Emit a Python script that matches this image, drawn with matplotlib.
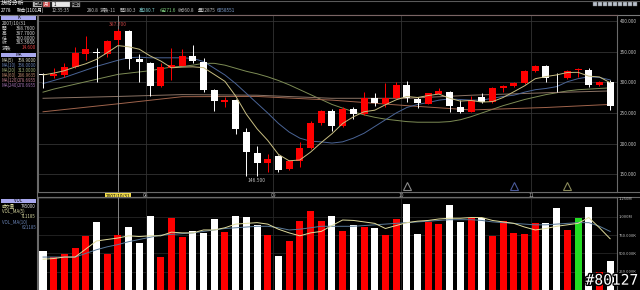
import numpy as np
import matplotlib
matplotlib.use("Agg")
import matplotlib.pyplot as plt
from matplotlib.patches import Rectangle
from matplotlib.ticker import FuncFormatter
import matplotlib.transforms as mtrans
import matplotlib.patheffects as pe

plt.rcParams['font.family'] = ['Noto Sans CJK TC', 'DejaVu Sans']

# ---- data ----
opens = [312.5, 310.3, 312.0, 325.5, 346.2, 348.5, 346.2, 368.76, 383.7, 338.0,
         332.0, 294.0, 324.0, 327.0, 343.0, 333.7, 287.5, 268.5, 271.0, 219.6,
         184.0, 169.0, 180.0, 158.0, 171.7, 193.5, 233.0, 253.8, 229.3, 256.5,
         247.8, 274.0, 264.1, 274.0, 295.7, 272.8, 265.2, 281.5, 284.8, 260.3,
         252.0, 276.0, 267.4, 291.3, 294.6, 298.4, 318.5, 326.6, 308.9, 306.5,
         320.0, 320.0, 295.6, 300.0]
highs = [316.0, 322.8, 331.0, 357.0, 376.0, 355.4, 368.5, 387.7, 385.0, 345.6,
         333.7, 332.0, 356.5, 353.8, 360.9, 339.0, 289.0, 276.6, 272.8, 226.0,
         196.7, 182.6, 181.5, 174.0, 203.0, 237.0, 255.0, 256.0, 260.0, 260.0,
         285.0, 282.0, 299.5, 300.0, 302.0, 276.6, 283.0, 291.3, 286.0, 271.0,
         278.0, 282.0, 292.0, 295.5, 300.5, 320.0, 328.3, 328.3, 314.7, 320.0,
         323.0, 324.0, 302.0, 303.8]
lows = [291.0, 307.6, 309.0, 322.8, 336.4, 301.0, 341.8, 360.8, 321.7, 301.0,
        278.3, 293.0, 303.8, 326.0, 331.0, 283.7, 253.8, 260.3, 215.2, 148.0,
        146.5, 154.0, 153.3, 157.0, 162.5, 192.0, 230.4, 220.7, 228.0, 240.2,
        247.0, 262.0, 260.3, 273.0, 268.5, 257.6, 264.0, 280.5, 251.0, 249.5,
        251.0, 267.0, 266.0, 284.8, 292.5, 297.5, 317.4, 301.0, 283.7, 305.5,
        309.0, 293.0, 294.5, 254.9]
closes = [311.8, 313.0, 325.5, 347.3, 353.8, 347.8, 367.4, 383.36, 337.5, 333.7,
          294.0, 325.5, 328.0, 343.5, 335.3, 287.5, 270.0, 271.7, 224.0, 187.0,
          169.0, 175.0, 157.6, 171.7, 193.5, 233.0, 253.0, 229.3, 256.0, 247.8,
          274.0, 265.8, 274.0, 295.7, 275.0, 265.8, 282.0, 286.0, 261.4, 252.0,
          271.0, 268.5, 290.2, 294.6, 299.0, 319.0, 326.6, 307.6, 308.5, 319.0,
          320.0, 295.6, 301.0, 260.9]
volumes = [0.537, 0.446, 0.492, 0.578, 0.738, 0.929, 0.492, 0.745, 0.856, 0.638,
           1.015, 0.455, 0.988, 0.729, 0.801, 0.783, 0.970, 0.797, 1.006, 1.002,
           0.888, 0.756, 0.469, 0.669, 0.938, 1.084, 0.947, 1.011, 0.811, 0.893,
           0.856, 0.852, 0.747, 0.975, 1.170, 0.765, 0.934, 0.897, 1.157, 0.934,
           0.988, 0.984, 0.738, 0.943, 0.774, 0.760, 0.911, 0.915, 1.125, 0.820,
           0.988, 1.138, 0.242, 0.396]  # millions

ma5 = [312, 315, 319, 325, 330.3, 337.5, 348.4, 359.9, 358.0, 354.0,
       343.2, 334.8, 323.7, 324.9, 325.3, 324.0, 312.9, 301.6, 277.7, 248.0,
       224.3, 205.3, 182.5, 172.1, 173.4, 186.2, 201.8, 216.1, 233.0, 243.8,
       252.0, 254.6, 263.5, 271.5, 276.9, 275.3, 278.5, 280.9, 274.0, 269.4,
       270.5, 267.8, 268.6, 275.3, 284.7, 294.3, 305.9, 309.4, 312.1, 316.1,
       316.3, 310.1, 308.8, 299.3]
ma10 = [298, 303, 308, 314, 320, 326, 331, 336, 340, 341,
        340, 340, 340, 340, 339, 334, 323, 312, 298, 282,
        266, 250, 233, 219, 209, 204, 203, 201, 203, 209,
        217, 228, 239, 250, 259, 264, 267, 271, 273, 272,
        271, 271, 274, 277, 279, 284, 288, 290, 293, 301,
        306, 309, 308, 304]
ma20 = [284, 289, 293, 297, 301, 305, 309, 313, 315, 317,
        319, 322, 325, 326, 328, 331, 331, 328, 323, 318,
        314, 309, 303, 296, 288, 280, 272, 264, 258, 252,
        247, 243, 240, 238, 236, 235, 235, 235, 236, 239,
        244, 250, 256, 262, 267, 272, 276, 280, 283, 286,
        288, 289, 290, 291]
long_idx = [0, 7, 13, 20, 27, 34, 40, 47, 53]
ma60 = [252, 265, 276.6, 277, 271, 262, 255, 259, 264]
ma120 = [274, 277, 280, 279, 274, 274, 279, 283, 286]

vol_ma5 = [0.42, 0.43, 0.45, 0.45, 0.56, 0.67, 0.69, 0.71, 0.74, 0.73,
           0.74, 0.74, 0.79, 0.78, 0.78, 0.82, 0.82, 0.85, 0.90, 0.91,
           0.92, 0.90, 0.83, 0.78, 0.74, 0.78, 0.80, 0.88, 0.956, 0.95,
           0.93, 0.91, 0.84, 0.88, 0.92, 0.94, 0.95, 0.97, 0.98, 0.98,
           0.99, 0.99, 0.95, 0.93, 0.91, 0.86, 0.82, 0.84, 0.87, 0.89,
           0.91, 0.99, 0.85, 0.70]
vol_ma10 = [0.45, 0.45, 0.45, 0.45, 0.50, 0.55, 0.59, 0.62, 0.66, 0.69,
            0.72, 0.75, 0.76, 0.77, 0.78, 0.80, 0.82, 0.84, 0.85, 0.86,
            0.87, 0.87, 0.85, 0.82, 0.83, 0.85, 0.87, 0.87, 0.87, 0.87,
            0.88, 0.89, 0.90, 0.91, 0.92, 0.93, 0.94, 0.95, 0.96, 0.96,
            0.96, 0.95, 0.93, 0.92, 0.91, 0.90, 0.89, 0.89, 0.90, 0.91,
            0.92, 0.92, 0.87, 0.80]

month_pos = [9.6, 21.5, 33.5, 45.6]
month_labels = ['08', '09', '10', '11']
signal_idx = [34, 44, 49]
signal_colors = ['#8a8a8a', '#4a5a9a', '#8a8a5a']
cursor_i = 7
cursor_date = '2007/10/31'

price_ticks = [150, 200, 250, 300, 350, 400]
vol_ticks = [0.25, 0.5, 0.75, 1.0, 1.25]

# ---- figure ----
W, H = 640, 290
fig = plt.figure(figsize=(6.4, 2.9), dpi=100, facecolor='black')


def box(x0, y0, x1, y1):
    return [x0 / W, 1 - y1 / H, (x1 - x0) / W, (y1 - y0) / H]


ov = fig.add_axes([0, 0, 1, 1])
ov.set_xlim(0, W)
ov.set_ylim(H, 0)
ov.axis('off')
ov.set_zorder(0)

ax = fig.add_axes(box(38, 15, 617, 191.7), facecolor='black')
axv = fig.add_axes(box(38, 197.3, 617, 290), facecolor='black')
for a in (ax, axv):
    a.set_zorder(1)
    a.set_xlim(-0.47, 53.64)
    for s in a.spines.values():
        s.set_color('#6a6a6a')
        s.set_linewidth(0.8)
ax.spines['top'].set_color('#7a6464')

n = len(closes)
idx = np.arange(n)

# candles
for i in idx:
    o, h, l, c = opens[i], highs[i], lows[i], closes[i]
    col = '#ff0000' if c >= o else '#ffffff'
    ax.vlines(i, l, h, color=col, lw=0.7, zorder=3)
    body = max(abs(c - o), 1.0)
    ax.bar(i, body, bottom=min(o, c), width=0.66, color=col, lw=0, zorder=4)

ax.plot(idx, ma20, color='#7d8c55', lw=0.7, zorder=2)
ax.plot(long_idx, ma60, color='#a0644c', lw=0.7, zorder=2)
ax.plot(long_idx, ma120, color='#8c7466', lw=0.7, zorder=2)
ax.plot(idx, ma10, color='#4a6496', lw=0.7, zorder=2)
ax.plot(idx, ma5, color='#c8be82', lw=0.7, zorder=5)

ax.set_ylim(121.7, 409.8)
ax.set_yticks(price_ticks)
ax.yaxis.tick_right()
ax.yaxis.set_major_formatter(FuncFormatter(lambda v, p: f'{v:.3f}'))
ax.tick_params(axis='y', length=0, pad=2.0, labelsize=3.4, colors='#bdbdbd')
ax.set_xticks(month_pos)
ax.set_xticklabels(month_labels)
ax.tick_params(axis='x', length=0, pad=0.8, labelsize=3.6, colors='#bdbdbd')
ax.grid(True, color='#333333', lw=0.6)
ax.set_axisbelow(True)

ax.annotate(f'{highs[cursor_i]:.3f}', (cursor_i, highs[cursor_i]), xytext=(0, 1.2),
            textcoords='offset points', ha='center', va='bottom', fontsize=3.6,
            color='#c04040', zorder=6)
lo_i = int(np.argmin(lows))
ax.annotate(f'{lows[lo_i]:.3f}', (lo_i, lows[lo_i]), xytext=(0, -1.2),
            textcoords='offset points', ha='center', va='top', fontsize=3.6,
            color='#bdbdbd', zorder=6)

for si, sc in zip(signal_idx, signal_colors):
    ax.plot(si, 0.035, marker='^', ms=6, mfc='none', mec=sc, mew=0.8,
            transform=mtrans.blended_transform_factory(ax.transData, ax.transAxes),
            clip_on=False, zorder=6)

# volume
vcols = ['#ff0000' if c > o else ('#ffffff' if c < o else '#22dd22')
         for o, c in zip(opens, closes)]
axv.bar(idx, volumes, width=0.66, color=vcols, lw=0, zorder=3)
axv.plot(idx, vol_ma10, color='#5a7a9a', lw=0.7, zorder=4)
axv.plot(idx, vol_ma5, color='#e0dc9c', lw=0.7, zorder=4)
axv.set_ylim(0, 1.266)
axv.set_yticks(vol_ticks)
axv.yaxis.tick_right()
axv.yaxis.set_major_formatter(FuncFormatter(
    lambda v, p: f'{v:.3f}M' if v >= 1 else f'{v * 1000:.3f}K'))
axv.tick_params(axis='y', length=0, pad=1.5, labelsize=3.0, colors='#bdbdbd')
axv.set_xticks(month_pos)
axv.tick_params(axis='x', length=0, labelbottom=False)
axv.grid(True, color='#262626', lw=0.6)
axv.set_axisbelow(True)

# cursor
for a in (ax, axv):
    a.axvline(cursor_i, color='#9a9a9a', lw=0.6, zorder=2)
ax.text(cursor_i, -0.012, cursor_date,
        transform=mtrans.blended_transform_factory(ax.transData, ax.transAxes),
        ha='center', va='top', fontsize=3.4, color='black', zorder=7,
        bbox=dict(fc='#f2dc4a', ec='none', pad=0.4))

# ---- frame / header / left panel ----
ov.plot([0, 640], [14.5, 14.5], color='#7a7a7a', lw=0.8)
ov.plot([37, 37], [14.5, 290], color='#6a6a6a', lw=0.8)
ov.plot([37, 640], [191.7, 191.7], color='#6a6a6a', lw=0.8)
ov.plot([37, 640], [197.3, 197.3], color='#6a6a6a', lw=0.8)
ov.plot([0, 640], [0.5, 0.5], color='#5a5a5a', lw=0.8)

ov.text(1, 3.8, '技術分析', fontsize=4.2, color='white', va='center')
ov.add_patch(Rectangle((33, 1), 9, 6, fc='#c8c8c8', ec='#888888', lw=0.3))
ov.text(37.5, 4, '日週', fontsize=3.2, color='black', ha='center', va='center')
ov.add_patch(Rectangle((43, 1), 7, 6, fc='#d04848', ec='#888888', lw=0.3))
ov.text(46.5, 4, '月', fontsize=3.2, color='white', ha='center', va='center')
ov.add_patch(Rectangle((52, 1), 18, 6, fc='#e8e8e8', ec='#888888', lw=0.3))
ov.text(54, 4, '1', fontsize=3.2, color='black', va='center')
ov.add_patch(Rectangle((72, 1), 8, 6, fc='#9a9a9a', ec='#666666', lw=0.3))
ov.text(76, 4, '確認', fontsize=3.2, color='black', ha='center', va='center')
for k in range(9):
    ov.add_patch(Rectangle((593 + 5 * k, 1.8), 4, 4.4, fc='#b8c0cc', ec='#707070', lw=0.3))

header = [(1, '2778', '#ffffff'), (17, '聯合(1101月)', '#ffffff'),
          (52, '12:35:35', '#bdbdbd'), (87, '280.8', '#bdbdbd'),
          (100, '漲跌-11', '#bdbdbd'), (120, '開280.3', '#bdbdbd'),
          (139, '高280.7', '#7fd0d0'), (160, '低271.6', '#7fd07f'),
          (178, '收260.8', '#bdbdbd'), (198, '量22875', '#bdbdbd'),
          (217, '6058551', '#7fa0d0')]
for x, t, c in header:
    ov.text(x, 10.2, t, fontsize=3.4, color=c, va='center')

ov.add_patch(Rectangle((1, 15.5), 35, 4.5, fc='#a8a8ee', ec='none'))
ov.text(18.5, 17.8, 'K', fontsize=3.2, color='black', ha='center', va='center')
ov.text(2, 23, cursor_date, fontsize=3.4, color='#d0d0d0', va='center')
k_rows = [('開', f'{opens[cursor_i]:.4f}', '#d0d0d0'),
          ('高', f'{highs[cursor_i]:.4f}', '#d0d0d0'),
          ('低', f'{lows[cursor_i]:.4f}', '#d0d0d0'),
          ('收', f'{closes[cursor_i]:.4f}', '#d0d0d0'),
          ('漲跌', f'{closes[cursor_i] - opens[cursor_i]:.3f}', '#e04040')]
for r, (lab, val, c) in enumerate(k_rows):
    y = 28.3 + 4.9 * r
    ov.text(2, y, lab, fontsize=3.4, color='#d0d0d0', va='center')
    ov.text(36, y, val, fontsize=3.4, color=c, va='center', ha='right')

ov.add_patch(Rectangle((1, 52.8), 35, 4.5, fc='#a8a8ee', ec='none'))
ov.text(18.5, 55, 'MA', fontsize=3.2, color='black', ha='center', va='center')
ma_rows = [('MA(5)', ma5[cursor_i], '#d8d8c0'), ('MA(10)', ma10[cursor_i], '#6a84b6'),
           ('MA(20)', ma20[cursor_i], '#9dac75'), ('MA(60)', 286.9635, '#c08a70'),
           ('MA(120)', 278.6955, '#c07c8c'), ('MA(240)', 270.6955, '#a070b0')]
for r, (lab, val, c) in enumerate(ma_rows):
    y = 60.7 + 5 * r
    ov.text(2, y, lab, fontsize=3.2, color=c, va='center')
    ov.text(36, y, f'{val:.4f}', fontsize=3.2, color=c, va='center', ha='right')

ov.add_patch(Rectangle((1, 198.5), 35, 4.5, fc='#a8a8ee', ec='none'))
ov.text(18.5, 200.8, 'VOL', fontsize=3.2, color='black', ha='center', va='center')
ov.text(2, 206, '成交量', fontsize=3.2, color='#d8d8a0', va='center')
ov.text(36, 206, f'{volumes[cursor_i] * 1e6:.0f}', fontsize=3.2, color='#e0e0e0',
        va='center', ha='right')
ov.text(2, 211.7, 'VOL_MA(5)', fontsize=3.2, color='#d8d8a0', va='center')
ov.text(36, 216.7, f'{vol_ma5[cursor_i] * 1e6 + 1185:.0f}', fontsize=3.2,
        color='#d8d8a0', va='center', ha='right')
ov.text(2, 222.3, 'VOL_MA(10)', fontsize=3.2, color='#6a84b6', va='center')
ov.text(36, 227.3, f'{vol_ma10[cursor_i] * 1e6 + 1185:.0f}', fontsize=3.2,
        color='#6a84b6', va='center', ha='right')

fig.text(0.997, 0.008, '#80127', ha='right', va='bottom', fontsize=10.5,
         family='DejaVu Sans Mono', color='white', zorder=10,
         path_effects=[pe.withStroke(linewidth=2, foreground='black')])

fig.savefig('out.png', dpi=100, facecolor='black')
